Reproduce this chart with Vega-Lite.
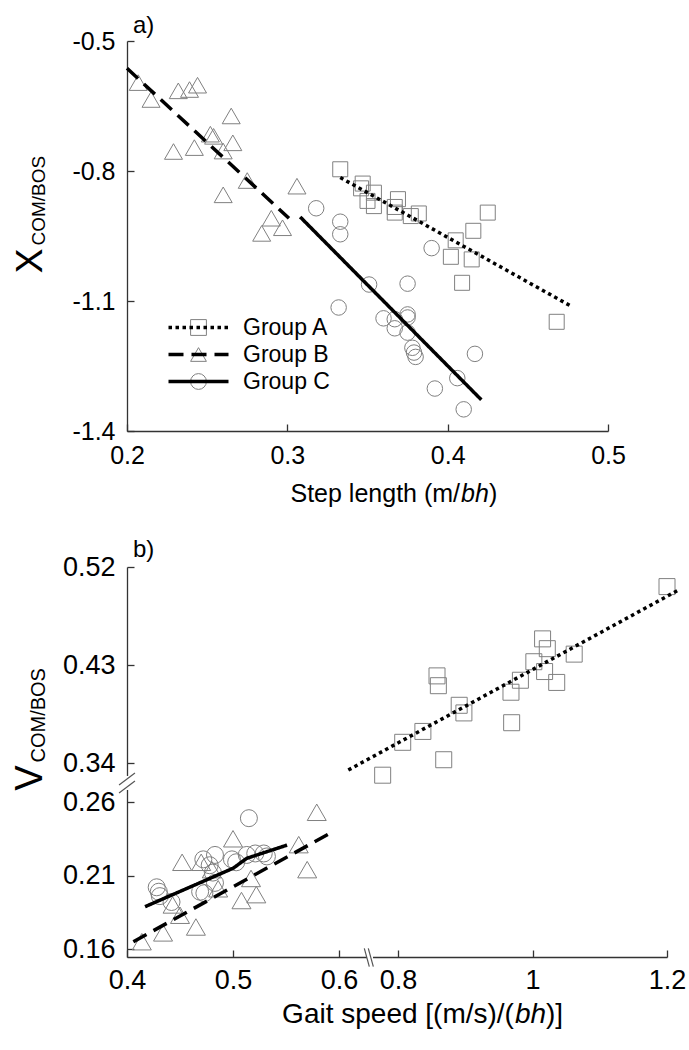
{
  "$schema": "https://vega.github.io/schema/vega-lite/v6.json",
  "background": "white",
  "padding": {"left": 11, "top": 14, "right": 5, "bottom": 5},
  "config": {
    "font": "Liberation Sans",
    "view": {"stroke": null},
    "axis": {"domainColor": "#333", "tickColor": "#333", "domainWidth": 1.3, "tickWidth": 1.3, "tickSize": -7, "labelColor": "black", "titleColor": "black", "titleFontWeight": "normal", "grid": false, "labelOverlap": false, "labelFlush": false, "labelBound": false},
    "legend": {"labelFont": "Liberation Sans", "labelColor": "black"},
    "title": {"fontWeight": "normal", "color": "black", "anchor": "start", "frame": "group"}
  },
  "datasets": {
    "a_pts": [
      {"group": "Group A", "x": 0.333, "y": -0.796}, {"group": "Group A", "x": 0.347, "y": -0.829}, {"group": "Group A", "x": 0.346, "y": -0.840},
      {"group": "Group A", "x": 0.354, "y": -0.850}, {"group": "Group A", "x": 0.350, "y": -0.869}, {"group": "Group A", "x": 0.354, "y": -0.881},
      {"group": "Group A", "x": 0.369, "y": -0.865}, {"group": "Group A", "x": 0.367, "y": -0.883}, {"group": "Group A", "x": 0.367, "y": -0.896},
      {"group": "Group A", "x": 0.377, "y": -0.904}, {"group": "Group A", "x": 0.382, "y": -0.898}, {"group": "Group A", "x": 0.425, "y": -0.896},
      {"group": "Group A", "x": 0.416, "y": -0.938}, {"group": "Group A", "x": 0.405, "y": -0.960}, {"group": "Group A", "x": 0.402, "y": -0.998},
      {"group": "Group A", "x": 0.415, "y": -1.004}, {"group": "Group A", "x": 0.409, "y": -1.058}, {"group": "Group A", "x": 0.468, "y": -1.148},
      {"group": "Group B", "x": 0.207, "y": -0.596}, {"group": "Group B", "x": 0.215, "y": -0.635}, {"group": "Group B", "x": 0.232, "y": -0.615},
      {"group": "Group B", "x": 0.239, "y": -0.612}, {"group": "Group B", "x": 0.244, "y": -0.602}, {"group": "Group B", "x": 0.265, "y": -0.673},
      {"group": "Group B", "x": 0.252, "y": -0.715}, {"group": "Group B", "x": 0.254, "y": -0.720}, {"group": "Group B", "x": 0.229, "y": -0.755},
      {"group": "Group B", "x": 0.242, "y": -0.746}, {"group": "Group B", "x": 0.260, "y": -0.754}, {"group": "Group B", "x": 0.266, "y": -0.735},
      {"group": "Group B", "x": 0.275, "y": -0.822}, {"group": "Group B", "x": 0.260, "y": -0.855}, {"group": "Group B", "x": 0.306, "y": -0.835},
      {"group": "Group B", "x": 0.290, "y": -0.909}, {"group": "Group B", "x": 0.297, "y": -0.931}, {"group": "Group B", "x": 0.284, "y": -0.944},
      {"group": "Group C", "x": 0.318, "y": -0.886}, {"group": "Group C", "x": 0.333, "y": -0.917}, {"group": "Group C", "x": 0.333, "y": -0.946},
      {"group": "Group C", "x": 0.390, "y": -0.978}, {"group": "Group C", "x": 0.351, "y": -1.062}, {"group": "Group C", "x": 0.375, "y": -1.060},
      {"group": "Group C", "x": 0.332, "y": -1.115}, {"group": "Group C", "x": 0.360, "y": -1.140}, {"group": "Group C", "x": 0.367, "y": -1.142},
      {"group": "Group C", "x": 0.375, "y": -1.131}, {"group": "Group C", "x": 0.375, "y": -1.138}, {"group": "Group C", "x": 0.367, "y": -1.163},
      {"group": "Group C", "x": 0.375, "y": -1.173}, {"group": "Group C", "x": 0.378, "y": -1.208}, {"group": "Group C", "x": 0.379, "y": -1.219},
      {"group": "Group C", "x": 0.380, "y": -1.229}, {"group": "Group C", "x": 0.417, "y": -1.222}, {"group": "Group C", "x": 0.406, "y": -1.278},
      {"group": "Group C", "x": 0.392, "y": -1.302}, {"group": "Group C", "x": 0.410, "y": -1.350}
    ],
    "a_lines": [
      {"group": "Group A", "x": 0.333, "y": -0.815}, {"group": "Group A", "x": 0.477, "y": -1.112},
      {"group": "Group B", "x": 0.200, "y": -0.563}, {"group": "Group B", "x": 0.301, "y": -0.909},
      {"group": "Group C", "x": 0.308, "y": -0.906}, {"group": "Group C", "x": 0.421, "y": -1.328}
    ],
    "b_pts": [
      {"group": "Group A", "x": 0.748, "y": 0.315}, {"group": "Group A", "x": 0.807, "y": 0.359}, {"group": "Group A", "x": 0.837, "y": 0.369},
      {"group": "Group A", "x": 0.868, "y": 0.343}, {"group": "Group A", "x": 0.891, "y": 0.393}, {"group": "Group A", "x": 0.898, "y": 0.386},
      {"group": "Group A", "x": 0.858, "y": 0.420}, {"group": "Group A", "x": 0.860, "y": 0.411}, {"group": "Group A", "x": 0.968, "y": 0.405},
      {"group": "Group A", "x": 0.969, "y": 0.377}, {"group": "Group A", "x": 0.982, "y": 0.416}, {"group": "Group A", "x": 1.002, "y": 0.433},
      {"group": "Group A", "x": 1.015, "y": 0.454}, {"group": "Group A", "x": 1.022, "y": 0.445}, {"group": "Group A", "x": 1.018, "y": 0.424},
      {"group": "Group A", "x": 1.036, "y": 0.414}, {"group": "Group A", "x": 1.062, "y": 0.440}, {"group": "Group A", "x": 1.200, "y": 0.502},
      {"group": "Group B", "x": 0.414, "y": 0.165}, {"group": "Group B", "x": 0.434, "y": 0.171}, {"group": "Group B", "x": 0.465, "y": 0.175},
      {"group": "Group B", "x": 0.452, "y": 0.219}, {"group": "Group B", "x": 0.450, "y": 0.183}, {"group": "Group B", "x": 0.443, "y": 0.190},
      {"group": "Group B", "x": 0.500, "y": 0.235}, {"group": "Group B", "x": 0.470, "y": 0.219}, {"group": "Group B", "x": 0.480, "y": 0.214},
      {"group": "Group B", "x": 0.486, "y": 0.201}, {"group": "Group B", "x": 0.508, "y": 0.193}, {"group": "Group B", "x": 0.522, "y": 0.197},
      {"group": "Group B", "x": 0.517, "y": 0.208}, {"group": "Group B", "x": 0.562, "y": 0.231}, {"group": "Group B", "x": 0.570, "y": 0.214},
      {"group": "Group B", "x": 0.579, "y": 0.253},
      {"group": "Group C", "x": 0.428, "y": 0.202}, {"group": "Group C", "x": 0.430, "y": 0.199}, {"group": "Group C", "x": 0.431, "y": 0.196},
      {"group": "Group C", "x": 0.442, "y": 0.192}, {"group": "Group C", "x": 0.472, "y": 0.221}, {"group": "Group C", "x": 0.483, "y": 0.224},
      {"group": "Group C", "x": 0.478, "y": 0.217}, {"group": "Group C", "x": 0.481, "y": 0.212}, {"group": "Group C", "x": 0.469, "y": 0.199},
      {"group": "Group C", "x": 0.483, "y": 0.205}, {"group": "Group C", "x": 0.499, "y": 0.221}, {"group": "Group C", "x": 0.503, "y": 0.219},
      {"group": "Group C", "x": 0.515, "y": 0.249}, {"group": "Group C", "x": 0.513, "y": 0.224}, {"group": "Group C", "x": 0.521, "y": 0.225},
      {"group": "Group C", "x": 0.529, "y": 0.225}, {"group": "Group C", "x": 0.532, "y": 0.223}, {"group": "Group C", "x": 0.473, "y": 0.198}
    ],
    "b_lines": [
      {"group": "Group A", "x": 0.6315, "y": 0.3256}, {"group": "Group A", "x": 1.217, "y": 0.4988},
      {"group": "Group B", "x": 0.406, "y": 0.165}, {"group": "Group B", "x": 0.596, "y": 0.2405},
      {"group": "Group C", "x": 0.417, "y": 0.1888}, {"group": "Group C", "x": 0.500, "y": 0.2149},
      {"group": "Group C", "x": 0.513, "y": 0.2217}, {"group": "Group C", "x": 0.551, "y": 0.2307}
    ],
    "b_breaks": [
      {"x": 0.3925, "x2": 0.4075, "y": 0.2949, "y2": 0.3195},
      {"x": 0.3925, "x2": 0.4075, "y": 0.2785, "y2": 0.3031},
      {"x": 0.6858, "x2": 0.7027, "y": 0.1605, "y2": 0.148},
      {"x": 0.6993, "x2": 0.7163, "y": 0.1605, "y2": 0.148}
    ]
  },
  "spacing": 32,
  "resolve": {
    "scale": {"shape": "independent", "strokeDash": "independent"},
    "legend": {"shape": "independent", "strokeDash": "independent"}
  },
  "vconcat": [
    {
      "width": 481,
      "height": 390,
      "title": {"text": "a)", "fontSize": 24, "dx": 6, "offset": -28, "baseline": "alphabetic"},
      "resolve": {"axis": {"x": "independent", "y": "independent"}},
      "layer": [
        {
          "data": {"name": "a_pts"},
          "transform": [{"filter": "datum.group === 'Group A'"}],
          "mark": {"type": "point", "filled": false, "color": "#808080", "strokeWidth": 1, "size": 225, "opacity": 1},
          "encoding": {
            "x": {"field": "x", "type": "quantitative", "scale": {"domain": [0.2, 0.5], "nice": false, "zero": false},
              "axis": {"orient": "bottom", "values": [0.2, 0.3, 0.4, 0.5], "format": ".1f", "labelFontSize": 25, "labelPadding": 19,
                "title": "Step length (m/", "titleFontSize": 25, "titleX": 163, "titleY": 70, "titleAlign": "left", "titleBaseline": "alphabetic"}},
            "y": {"field": "y", "type": "quantitative", "scale": {"domain": [-1.4, -0.5], "nice": false, "zero": false},
              "axis": {"orient": "left", "values": [-1.4, -1.1, -0.8, -0.5], "format": ".1f", "labelExpr": "replace(datum.label, '−', '-')", "labelFontSize": 25, "labelPadding": 19,
                "title": "X", "titleFontSize": 37, "titleAngle": 270, "titleAlign": "center", "titleBaseline": "middle", "titleX": -96.4, "titleY": 219.5}},
            "shape": {"field": "group", "type": "nominal",
              "scale": {"range": ["square", "triangle-up", "circle"]},
              "legend": {"orient": "none", "legendX": 60, "legendY": 275, "title": null, "padding": 0, "symbolSize": 250, "symbolStrokeColor": "#808080", "symbolStrokeWidth": 1, "symbolFillColor": "transparent", "symbolOffset": 0, "labelFontSize": 23, "labelOpacity": 0, "labelOffset": 33, "rowPadding": 3}}
          }
        },
        {
          "data": {"name": "a_pts"},
          "transform": [{"filter": "datum.group === 'Group B'"}],
          "mark": {"type": "point", "filled": false, "color": "#808080", "strokeWidth": 1, "size": 324, "opacity": 1},
          "encoding": {
            "x": {"field": "x", "type": "quantitative",
              "axis": {"orient": "bottom", "domain": false, "ticks": false, "labels": false, "title": "bh", "titleFontStyle": "italic", "titleFontSize": 25, "titleX": 333.5, "titleY": 70, "titleAlign": "left", "titleBaseline": "alphabetic"}},
            "y": {"field": "y", "type": "quantitative",
              "axis": {"orient": "left", "domain": false, "ticks": false, "labels": false, "title": "COM/BOS", "titleFontSize": 19, "titleAngle": 270, "titleAlign": "left", "titleBaseline": "middle", "titleX": -88.4, "titleY": 204}},
            "shape": {"field": "group", "type": "nominal", "legend": null}
          }
        },
        {
          "data": {"name": "a_pts"},
          "transform": [{"filter": "datum.group === 'Group C'"}],
          "mark": {"type": "point", "filled": false, "color": "#808080", "strokeWidth": 1, "size": 240, "opacity": 1},
          "encoding": {
            "x": {"field": "x", "type": "quantitative",
              "axis": {"orient": "bottom", "domain": false, "ticks": false, "labels": false, "title": ")", "titleFontSize": 25, "titleX": 361.5, "titleY": 70, "titleAlign": "left", "titleBaseline": "alphabetic"}},
            "y": {"field": "y", "type": "quantitative", "axis": null},
            "shape": {"field": "group", "type": "nominal", "legend": null}
          }
        },
        {
          "data": {"name": "a_lines"},
          "mark": {"type": "line", "color": "black", "strokeWidth": 3.5},
          "encoding": {
            "x": {"field": "x", "type": "quantitative", "axis": null},
            "y": {"field": "y", "type": "quantitative", "axis": null},
            "strokeDash": {"field": "group", "type": "nominal",
              "scale": {"domain": ["Group A", "Group B", "Group C"], "range": [[3.5, 3.5], [15, 8], [1, 0]]},
              "legend": {"orient": "none", "legendX": 60, "legendY": 275, "title": null, "padding": 0, "symbolType": "M-3.333,0H3.333", "symbolSize": 324, "symbolStrokeWidth": 3.5, "symbolStrokeColor": "black", "symbolOffset": 0, "labelFontSize": 23, "labelOffset": 33, "rowPadding": 3}}
          }
        }
      ]
    },
    {
      "width": 540,
      "height": 390,
      "title": {"text": "b)", "fontSize": 24, "dx": 6, "offset": -28, "baseline": "alphabetic"},
      "resolve": {"axis": {"x": "independent", "y": "independent"}},
      "layer": [
        {
          "data": {"name": "b_pts"},
          "transform": [{"filter": "datum.group === 'Group A'"}],
          "mark": {"type": "point", "shape": "square", "filled": false, "color": "#808080", "strokeWidth": 1, "size": 256, "opacity": 1},
          "encoding": {
            "x": {"field": "x", "type": "quantitative", "scale": {"domain": [0.4, 0.6, 0.8, 1.2], "range": [0, 212, 271, 540], "nice": false, "zero": false},
              "axis": {"orient": "bottom", "values": [0.4, 0.5, 0.6, 0.8, 1, 1.2], "format": "~g", "labelFontSize": 27, "labelPadding": 17,
                "title": "Gait speed [(m/s)/(", "titleFontSize": 28, "titleX": 154.6, "titleY": 65, "titleAlign": "left", "titleBaseline": "alphabetic"}},
            "y": {"field": "y", "type": "quantitative", "scale": {"domain": [0.1546, 0.26, 0.34, 0.52], "range": [390, 235, 196, 0], "nice": false, "zero": false},
              "axis": {"orient": "left", "values": [0.16, 0.21, 0.26, 0.34, 0.43, 0.52], "format": ".2f", "labelFontSize": 27, "labelPadding": 19,
                "title": "V", "titleFontSize": 38, "titleAngle": 270, "titleAlign": "center", "titleBaseline": "middle", "titleX": -96.4, "titleY": 210.5}}
          }
        },
        {
          "data": {"name": "b_pts"},
          "transform": [{"filter": "datum.group === 'Group B'"}],
          "mark": {"type": "point", "shape": "triangle-up", "filled": false, "color": "#808080", "strokeWidth": 1, "size": 361, "opacity": 1},
          "encoding": {
            "x": {"field": "x", "type": "quantitative",
              "axis": {"orient": "bottom", "domain": false, "ticks": false, "labels": false, "title": "bh", "titleFontStyle": "italic", "titleFontSize": 28, "titleX": 387.4, "titleY": 65, "titleAlign": "left", "titleBaseline": "alphabetic"}},
            "y": {"field": "y", "type": "quantitative",
              "axis": {"orient": "left", "domain": false, "ticks": false, "labels": false, "title": "COM/BOS", "titleFontSize": 20, "titleAngle": 270, "titleAlign": "left", "titleBaseline": "middle", "titleX": -88.4, "titleY": 195}}
          }
        },
        {
          "data": {"name": "b_pts"},
          "transform": [{"filter": "datum.group === 'Group C'"}],
          "mark": {"type": "point", "shape": "circle", "filled": false, "color": "#808080", "strokeWidth": 1, "size": 289, "opacity": 1},
          "encoding": {
            "x": {"field": "x", "type": "quantitative",
              "axis": {"orient": "bottom", "domain": false, "ticks": false, "labels": false, "title": ")]", "titleFontSize": 28, "titleX": 418.5, "titleY": 65, "titleAlign": "left", "titleBaseline": "alphabetic"}},
            "y": {"field": "y", "type": "quantitative", "axis": null}
          }
        },
        {
          "data": {"name": "b_lines"},
          "mark": {"type": "line", "color": "black", "strokeWidth": 3.5},
          "encoding": {
            "x": {"field": "x", "type": "quantitative", "axis": null},
            "y": {"field": "y", "type": "quantitative", "axis": null},
            "strokeDash": {"field": "group", "type": "nominal",
              "scale": {"domain": ["Group A", "Group B", "Group C"], "range": [[3.5, 3.5], [15, 8], [1, 0]]},
              "legend": null}
          }
        },
        {
          "data": {"values": [{}]},
          "mark": {"type": "rule", "color": "white", "strokeWidth": 4},
          "encoding": {
            "x": {"datum": 0.4, "type": "quantitative", "axis": null},
            "y": {"datum": 0.3134, "type": "quantitative", "axis": null},
            "y2": {"datum": 0.2846}
          }
        },
        {
          "data": {"values": [{}]},
          "mark": {"type": "rule", "color": "white", "strokeWidth": 4},
          "encoding": {
            "x": {"datum": 0.6949, "type": "quantitative", "axis": null},
            "x2": {"datum": 0.7153},
            "y": {"datum": 0.1546, "type": "quantitative", "axis": null}
          }
        },
        {
          "data": {"name": "b_breaks"},
          "mark": {"type": "rule", "color": "#555", "strokeWidth": 1.2},
          "encoding": {
            "x": {"field": "x", "type": "quantitative", "axis": null},
            "x2": {"field": "x2"},
            "y": {"field": "y", "type": "quantitative", "axis": null},
            "y2": {"field": "y2"}
          }
        }
      ]
    }
  ]
}
